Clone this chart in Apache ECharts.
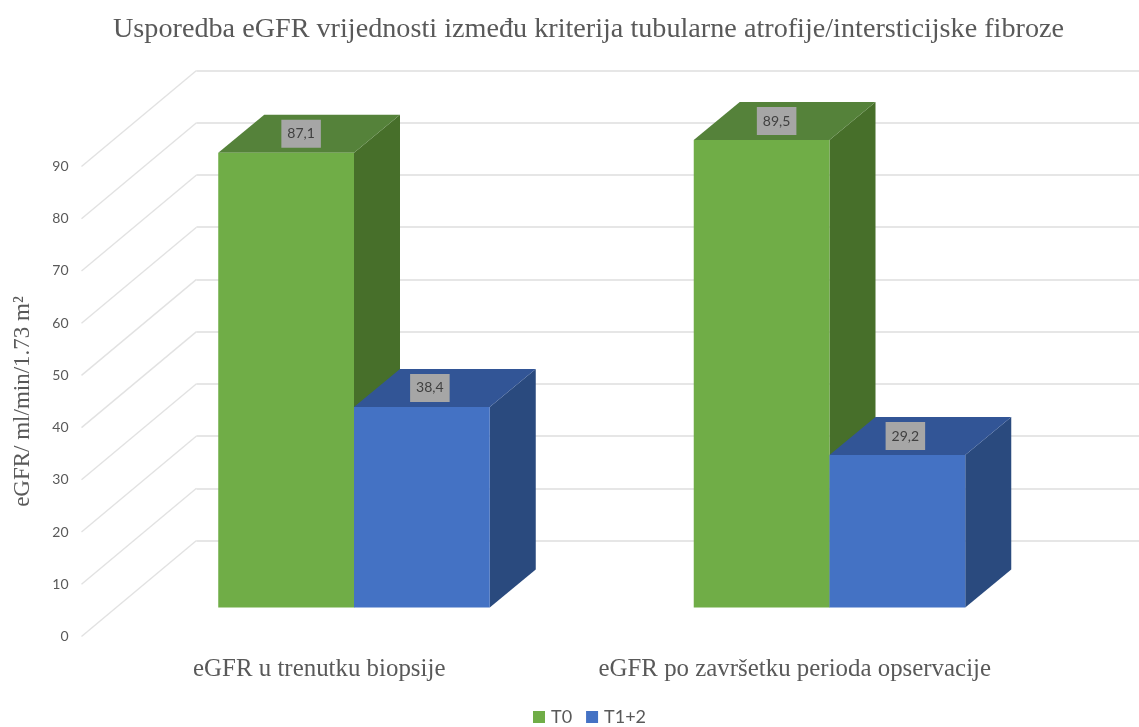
<!DOCTYPE html>
<html>
<head>
<meta charset="utf-8">
<title>eGFR</title>
<style>
  html, body { margin: 0; padding: 0; background: #fff; }
  #chart { width: 1139px; height: 727px; }
</style>
<script src="https://cdn.jsdelivr.net/npm/echarts@6/dist/echarts.min.js"></script>
</head>
<body>
<div id="chart"></div>
<script>
const categories = ['eGFR u trenutku biopsije', 'eGFR po završetku perioda opservacije'];
const t0Values = [87.1, 89.5];
const t1Values = [38.4, 29.2];
const yTicks = [0, 10, 20, 30, 40, 50, 60, 70, 80, 90];

const titleText = 'Usporedba eGFR vrijednosti između kriterija tubularne atrofije/intersticijske fibroze';
const yName = 'eGFR/ ml/min/1.73 m²';

const gray = '#595959';
const serif = '"Liberation Serif", serif';
const depthX = 46;
const depthY = 38;
const barRatio = 0.2855;

// one 3D box per value: front, top, side, then the grey value tag on the top face
function boxSeries(name, values, side, colors, labelShift) {
  return {
    name: name,
    type: 'custom',
    xAxisIndex: 0,
    yAxisIndex: 0,
    clip: false,
    z: 5,
    itemStyle: { color: colors[0] },
    data: values.map((v, i) => [i, v]),
    renderItem: function (params, api) {
      const top = api.coord([api.value(0), api.value(1)]);
      const base = api.coord([api.value(0), 0]);
      const w = api.size([1, 0])[0] * barRatio;
      const x0 = side < 0 ? top[0] - w : top[0];
      const x1 = x0 + w;
      const yT = top[1];
      const yB = base[1];
      return {
        type: 'group',
        children: [
          { type: 'polygon', shape: { points: [[x1, yT], [x1 + depthX, yT - depthY], [x1 + depthX, yB - depthY], [x1, yB]] }, style: { fill: colors[2] } },
          { type: 'polygon', shape: { points: [[x0, yT], [x0 + depthX, yT - depthY], [x1 + depthX, yT - depthY], [x1, yT]] }, style: { fill: colors[1] } },
          { type: 'rect', shape: { x: x0, y: yT, width: w, height: yB - yT }, style: { fill: colors[0] } },
          {
            type: 'text',
            z2: 10,
            style: {
              text: String(api.value(1)).replace('.', ','),
              x: x0 + (w + depthX) / 2 + labelShift,
              y: yT - depthY / 2,
              align: 'center',
              verticalAlign: 'middle',
              font: '14px Lato, sans-serif',
              fill: '#404040',
              backgroundColor: '#a6a6a6',
              padding: [7, 6]
            }
          }
        ]
      };
    }
  };
}

const chart = echarts.init(document.getElementById('chart'), null, { renderer: 'canvas' });

chart.setOption({
  animation: false,
  backgroundColor: '#ffffff',
  title: {
    text: titleText,
    left: 583.5,
    top: 11,
    textAlign: 'center',
    textStyle: { fontFamily: serif, fontSize: 28.2, fontWeight: 'normal', color: gray }
  },
  legend: {
    data: ['T0', 'T1+2'],
    left: 533,
    top: 708,
    padding: 0,
    itemWidth: 12,
    itemHeight: 12,
    itemGap: 14,
    icon: 'rect',
    textStyle: { fontFamily: 'Lato, sans-serif', fontSize: 18, color: gray, padding: [0, 0, 0, 1] }
  },
  grid: [
    { left: 116.25, top: 137.5, width: 951, height: 470 },
    { left: 81.5, top: 166.5, width: 951, height: 470 },
    { left: 196.5, top: 70.5, width: 960, height: 470 }
  ],
  xAxis: [
    { gridIndex: 0, type: 'category', data: categories, show: false },
    {
      gridIndex: 1,
      type: 'category',
      data: categories,
      axisLine: { show: false },
      axisTick: { show: false },
      axisLabel: { interval: 0, margin: 20, fontFamily: serif, fontSize: 24.9, color: gray }
    },
    { gridIndex: 2, type: 'value', min: 0, max: 1, show: false }
  ],
  yAxis: [
    { gridIndex: 0, type: 'value', min: 0, max: 90, interval: 10, show: false },
    {
      gridIndex: 1,
      type: 'value',
      min: 0,
      max: 90,
      interval: 10,
      name: yName,
      nameLocation: 'middle',
      nameRotate: 90,
      nameGap: 47,
      nameTextStyle: { fontFamily: serif, fontSize: 23, color: gray },
      axisLine: { show: false },
      axisTick: { show: false },
      splitLine: { show: false },
      axisLabel: { margin: 13, fontFamily: 'Lato, sans-serif', fontSize: 14, color: gray }
    },
    {
      gridIndex: 2,
      type: 'value',
      min: 0,
      max: 90,
      interval: 10,
      axisLine: { show: false },
      axisTick: { show: false },
      axisLabel: { show: false },
      splitLine: { show: true, lineStyle: { color: '#e6e6e6', width: 2 } }
    }
  ],
  series: [
    {
      name: 'diagonals',
      type: 'custom',
      xAxisIndex: 2,
      yAxisIndex: 2,
      clip: false,
      z: 1,
      silent: true,
      data: yTicks.map(t => [0, t]),
      renderItem: function (params, api) {
        const p = api.coord([0, api.value(1)]);
        return {
          type: 'line',
          shape: { x1: p[0], y1: p[1], x2: p[0] - 115, y2: p[1] + 96 },
          style: { stroke: '#e2e2e2', lineWidth: 1.4 }
        };
      }
    },
    boxSeries('T0', t0Values, -1, ['#70ad47', '#55823a', '#476f2a'], -8),
    boxSeries('T1+2', t1Values, 1, ['#4472c4', '#325596', '#2a4a7e'], -15)
  ]
});
</script>
</body>
</html>
